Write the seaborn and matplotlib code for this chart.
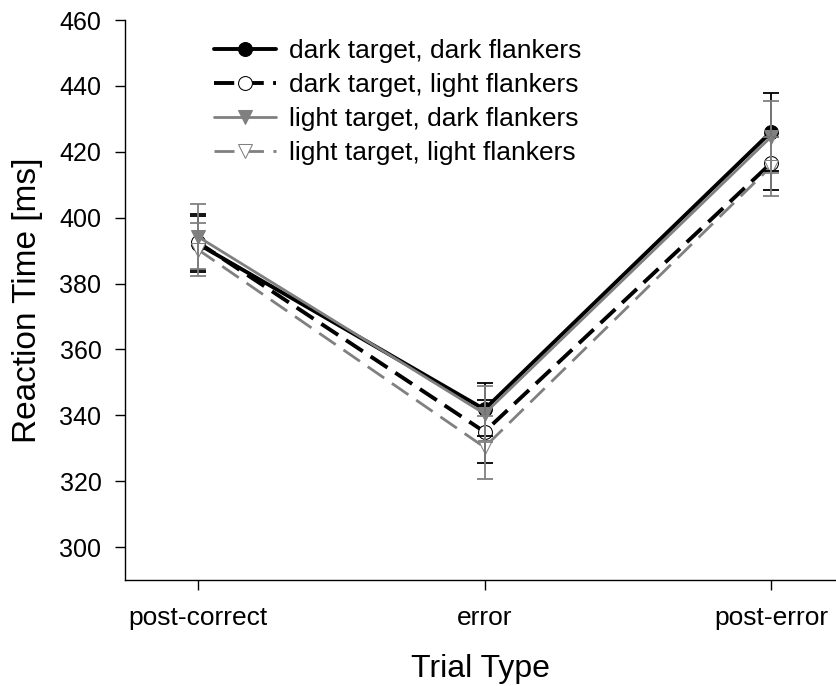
import matplotlib
matplotlib.use("Agg")
import matplotlib.pyplot as plt
import seaborn as sns
import pandas as pd

# Mean reaction times and error margins per trial type
trial_types = ["post-correct", "error", "post-error"]
conditions = [
    "dark target, dark flankers",
    "dark target, light flankers",
    "light target, dark flankers",
    "light target, light flankers",
]
rt_dark_dark = [392.0, 341.8, 426.0]
rt_dark_light = [392.5, 335.0, 416.5]
rt_light_dark = [394.2, 340.5, 424.5]
rt_light_light = [390.3, 330.3, 415.5]
err_dark_dark = [8.5, 8.0, 11.8]
err_dark_light = [8.5, 9.5, 8.0]
err_light_dark = [9.8, 8.5, 11.0]
err_light_light = [8.0, 9.5, 9.0]

means = [rt_dark_dark, rt_dark_light, rt_light_dark, rt_light_light]
errors = [err_dark_dark, err_dark_light, err_light_dark, err_light_light]

GRAY = "#808080"
styles = [
    dict(color="black", linestyle="-", linewidth=2.8, marker="o",
         markerfacecolor="black", markeredgecolor="black", markersize=10),
    dict(color="black", linestyle=(0, (5.2, 2.4)), linewidth=2.8, marker="o",
         markerfacecolor="white", markeredgecolor="black", markersize=10),
    dict(color=GRAY, linestyle="-", linewidth=2.0, marker="v",
         markerfacecolor=GRAY, markeredgecolor=GRAY, markersize=10),
    dict(color=GRAY, linestyle=(0, (7.2, 3.4)), linewidth=2.0, marker="v",
         markerfacecolor="white", markeredgecolor=GRAY, markersize=10),
]

sns.set_style("ticks")
plt.rcParams["font.family"] = ["Liberation Sans", "DejaVu Sans"]
plt.rcParams["text.color"] = "black"
plt.rcParams["axes.labelcolor"] = "black"

fig = plt.figure(figsize=(8.36, 6.86), dpi=100)
ax = fig.add_axes([125 / 836, 1 - 580 / 686, 1 - 125 / 836, 560 / 686])

xpos = list(range(len(trial_types)))
for name, m, e, st in zip(conditions, means, errors, styles):
    df = pd.DataFrame({"trial": xpos, "rt": m})
    sns.lineplot(data=df, x="trial", y="rt", ax=ax, label=name,
                 errorbar=None, zorder=3, **st)
    ax.errorbar(xpos, m, yerr=e, fmt="none", ecolor=st["color"],
                elinewidth=1.3, capsize=6, capthick=1.3, zorder=4)

ax.set_xlim(-0.255, 2.227)
ax.set_ylim(290, 460)
ax.set_yticks(range(300, 461, 20))
ax.set_xticks(xpos)
ax.set_xticklabels(trial_types)
ax.set_xlabel("Trial Type", fontsize=23, labelpad=17)
ax.set_ylabel("Reaction Time [ms]", fontsize=24, labelpad=12)
ax.tick_params(axis="both", direction="out", length=7,
               width=1.0, color="black", labelcolor="black")
ax.tick_params(axis="x", labelsize=19, pad=12)
ax.tick_params(axis="y", labelsize=18, pad=10)
for side in ("top", "right"):
    ax.spines[side].set_visible(False)
for side in ("left", "bottom"):
    ax.spines[side].set_linewidth(1.0)
    ax.spines[side].set_color("black")

ax.legend(loc="upper left", bbox_to_anchor=(78 / 711, 0.985), frameon=False,
          fontsize=19, handlelength=2.35, handletextpad=0.5,
          labelspacing=0.38, borderaxespad=0)

fig.savefig("out.png", dpi=100)
